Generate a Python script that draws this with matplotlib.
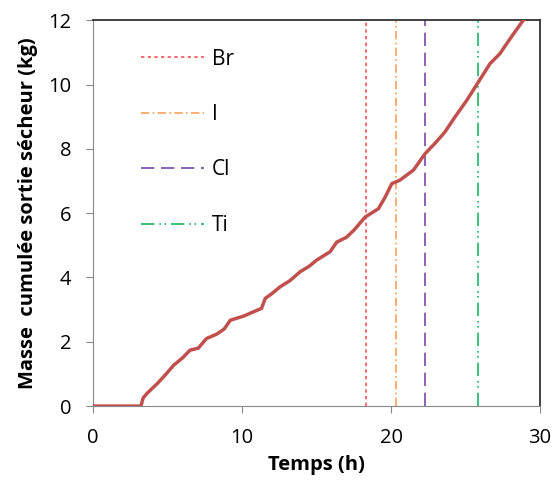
import matplotlib.pyplot as plt

plt.rcParams['font.family'] = ['Open Sans', 'DejaVu Sans']

# courbe masse cumulée
temps = [0, 3.2, 3.35, 3.6, 4.3, 4.8, 5.4, 6.0, 6.5, 7.05, 7.6, 8.3, 8.8, 9.2, 10.1,
         11.3, 11.55, 12.0, 12.55, 13.2, 13.9, 14.5, 15.0, 15.9, 16.35, 17.0, 17.5,
         18.26, 19.15, 19.6, 20.05, 20.6, 21.5, 22.28, 23.0, 23.62, 24.3, 25.08,
         25.86, 26.64, 27.3, 28.1, 28.87, 29.1]
masse = [0, 0, 0.25, 0.39, 0.7, 0.95, 1.27, 1.5, 1.74, 1.8, 2.1, 2.24, 2.4, 2.67, 2.8,
         3.04, 3.35, 3.5, 3.71, 3.9, 4.18, 4.35, 4.54, 4.8, 5.1, 5.25, 5.47,
         5.88, 6.14, 6.5, 6.92, 7.03, 7.34, 7.85, 8.2, 8.53, 9.0, 9.51,
         10.08, 10.65, 10.96, 11.5, 12.0, 12.1]

noms = ["Br", "I", "Cl", "Ti"]
positions = [18.3, 20.35, 22.3, 25.85]
couleurs = ["#FF4040", "#F79646", "#7030A0", "#00B050"]
styles = [(0, (2, 2)), (0, (5, 2, 1, 2)), (0, (8, 4)), (0, (8, 3, 1, 2, 1, 3))]

fig = plt.figure(figsize=(5.55, 4.84), dpi=100)
ax = fig.add_axes([0.168, 0.161, 0.805, 0.797])

ax.plot(temps, masse, color="#C0504D", lw=2.5, zorder=3)
for nom, p, c, s in zip(noms, positions, couleurs, styles):
    ax.axvline(p, color=c, ls=s, lw=1.2, alpha=0.9, label=nom)

ax.set_xlim(0, 30)
ax.set_ylim(0, 12)
ax.set_xticks([0, 10, 20, 30])
ax.set_yticks([0, 2, 4, 6, 8, 10, 12])
ax.tick_params(direction="out", length=5, color="#888888", labelsize=14.5)
ax.tick_params(axis="x", pad=11)
ax.tick_params(axis="y", pad=11)
for s in ["left", "bottom"]:
    ax.spines[s].set_color("#888888")
for s in ["top", "right"]:
    ax.spines[s].set_color("#333333")
    ax.spines[s].set_linewidth(1.3)

ax.set_xlabel("Temps (h)", fontsize=14.5, fontweight="bold", labelpad=5)
ax.set_ylabel("Masse  cumulée sortie sécheur (kg)", fontsize=14.5, fontweight="bold", labelpad=7)

ax.legend(loc="upper left", frameon=False, fontsize=15, labelspacing=1.65,
          handlelength=3.0, handletextpad=0.4, bbox_to_anchor=(0.065, 0.975))

fig.savefig("out.png", dpi=100)
